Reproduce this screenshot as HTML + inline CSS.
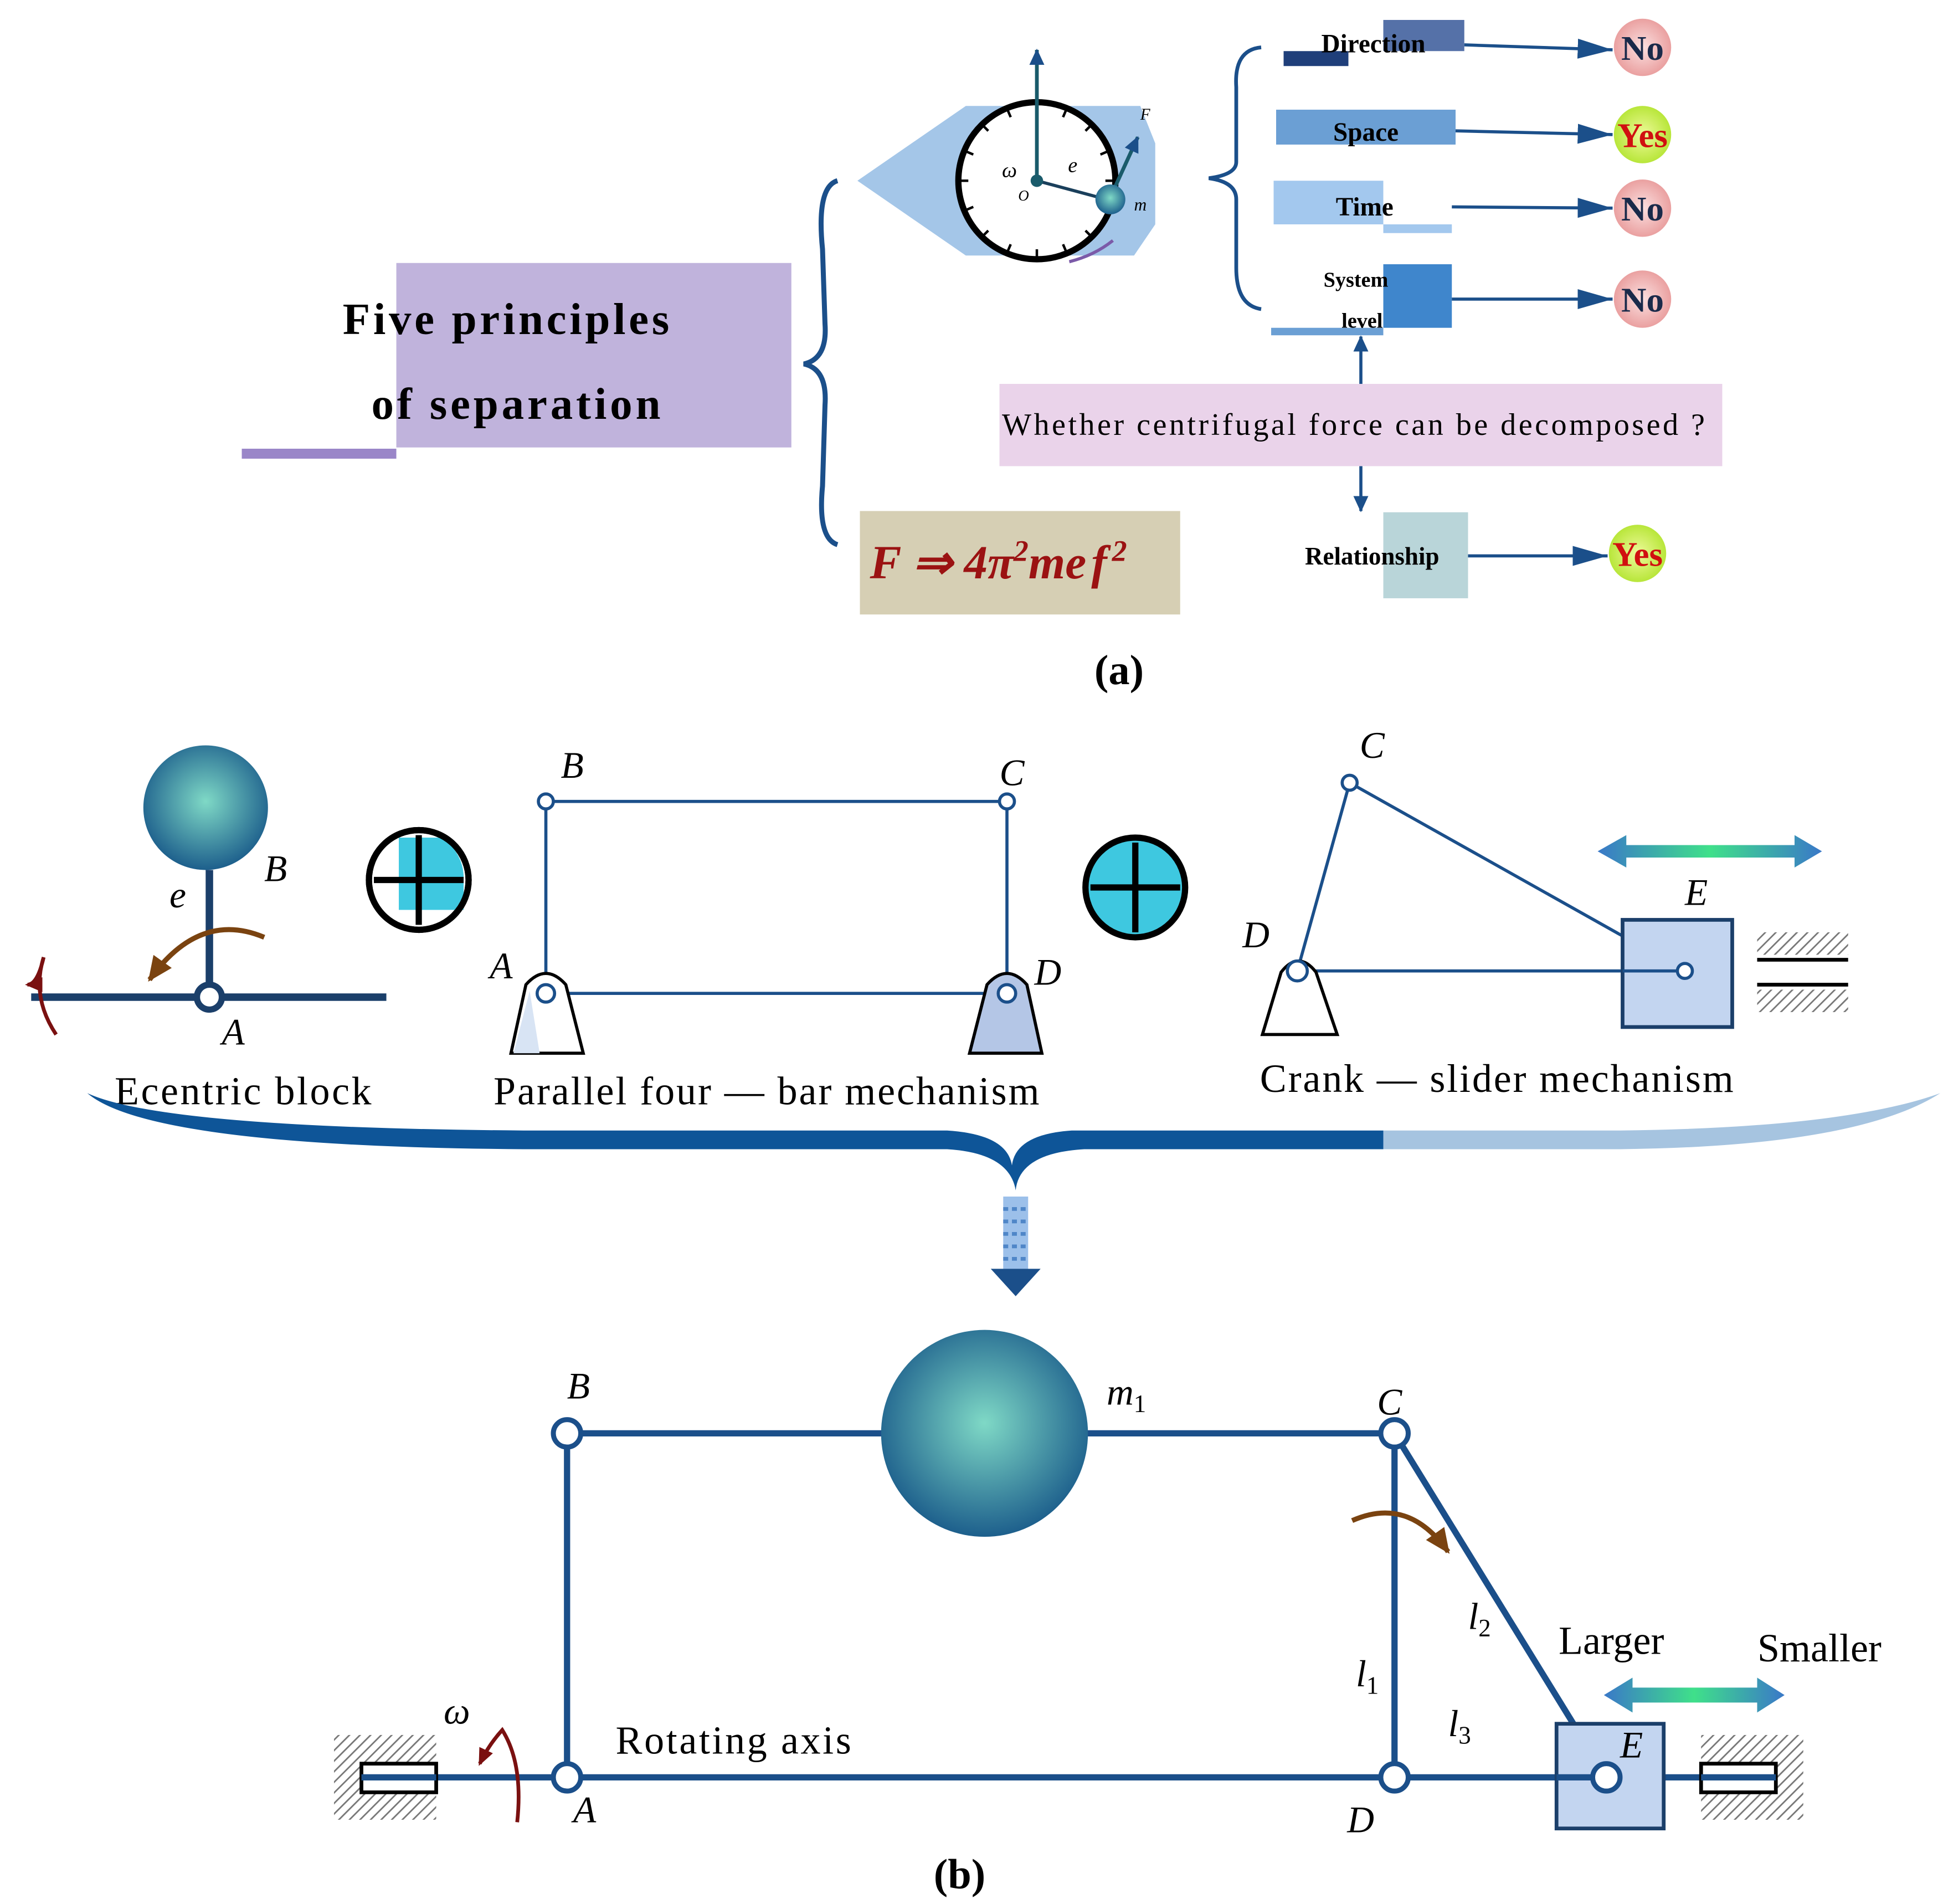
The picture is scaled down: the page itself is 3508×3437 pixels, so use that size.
<!DOCTYPE html>
<html><head><meta charset="utf-8"><style>html,body{margin:0;padding:0;background:#fff}svg{display:block}</style></head><body>
<svg width="3508" height="3437" viewBox="0 0 1559.1 1527.6" xmlns="http://www.w3.org/2000/svg" font-family="'Liberation Serif',serif">
<defs>
<radialGradient id="ball" cx="0.5" cy="0.45" r="0.55"><stop offset="0" stop-color="#7fd9c6"/><stop offset="1" stop-color="#1d5f8c"/></radialGradient>
<radialGradient id="pk" cx="0.5" cy="0.5" r="0.5"><stop offset="0" stop-color="#fbe0e0"/><stop offset="1" stop-color="#eaa0a0"/></radialGradient>
<radialGradient id="gy" cx="0.5" cy="0.5" r="0.5"><stop offset="0" stop-color="#eefa9a"/><stop offset="1" stop-color="#b8e63a"/></radialGradient>
<linearGradient id="dbl" x1="0" x2="1"><stop offset="0" stop-color="#3a78c8"/><stop offset="0.5" stop-color="#3fe08a"/><stop offset="1" stop-color="#3a78c8"/></linearGradient>
<pattern id="hatch" width="6" height="6" patternUnits="userSpaceOnUse" patternTransform="rotate(45)"><rect width="6" height="6" fill="#fff"/><line x1="0" y1="0" x2="0" y2="6" stroke="#777" stroke-width="2.5"/></pattern>
<marker id="a2" markerWidth="30" markerHeight="20" refX="28" refY="10" orient="auto" markerUnits="userSpaceOnUse"><path d="M0,2 L28,10 L0,18 Z" fill="#1b4f8a"/></marker>
<marker id="a3" markerWidth="14" markerHeight="14" refX="12" refY="7" orient="auto" markerUnits="userSpaceOnUse"><path d="M0,1 L13,7 L0,13 Z" fill="#1b4f8a"/></marker>
<marker id="ab" markerWidth="22" markerHeight="22" refX="18" refY="11" orient="auto" markerUnits="userSpaceOnUse"><path d="M0,2 L20,11 L0,20 Z" fill="#7a4310"/></marker>
<marker id="ar" markerWidth="16" markerHeight="16" refX="12" refY="8" orient="auto" markerUnits="userSpaceOnUse"><path d="M0,2 L14,8 L0,14 Z" fill="#7a1010"/></marker>
</defs>

<!-- (a) -->
<rect x="318" y="211" width="317" height="148" fill="#c0b3dc"/>
<rect x="194" y="360" width="124" height="8" fill="#9a86c8"/>
<text x="275" y="268" font-size="36" font-weight="bold" textLength="262" lengthAdjust="spacing">Five principles</text>
<text x="298" y="336" font-size="36" font-weight="bold" textLength="232" lengthAdjust="spacing">of separation</text>
<path d="M672,145 Q655,150 660,200 L662,260 Q664,288 645,292 Q664,296 662,325 L660,390 Q656,432 672,437" fill="none" stroke="#1b4f8a" stroke-width="4"/>

<polygon points="688,145 775,85 915,85 927,115 927,180 910,205 775,205" fill="#a4c6e8"/>
<circle cx="832" cy="145" r="63" fill="#fff" stroke="#000" stroke-width="5"/>
<g stroke="#000" stroke-width="2">
<path d="M832,82v8M832,208v-8M769,145h8M895,145h-8M876,100l-5,5M788,100l5,5M876,190l-5,-5M788,190l5,-5M856,87l-3,7M808,87l3,7M856,203l-3,-7M808,203l3,-7M890,121l-7,3M774,121l7,3M890,169l-7,-3M774,169l7,-3"/>
</g>
<line x1="832" y1="145" x2="832" y2="40" stroke="#1a5b6b" stroke-width="3" marker-end="url(#a3)"/>
<line x1="832" y1="145" x2="888" y2="160" stroke="#1a3f5b" stroke-width="2.5"/>
<circle cx="832" cy="145" r="5" fill="#1a5b6b"/>
<line x1="892" y1="156" x2="913" y2="110" stroke="#1a5b6b" stroke-width="3" marker-end="url(#a3)"/>
<circle cx="891" cy="160" r="12" fill="url(#ball)"/>
<path d="M858,210 Q878,205 893,193" fill="none" stroke="#7b5aa8" stroke-width="2.5"/>
<g font-style="italic" font-size="17"><text x="804" y="142">ω</text><text x="817" y="161" font-size="12">O</text><text x="857" y="138">e</text><text x="915" y="96" font-size="13">F</text><text x="910" y="169" font-size="14">m</text></g>

<path d="M1012,38 Q990,40 992,70 L992,130 Q992,140 970,143 Q992,146 992,160 L992,215 Q992,245 1012,248" fill="none" stroke="#1b4f8a" stroke-width="3"/>

<rect x="1030" y="41" width="52" height="12" fill="#1f3f7a"/>
<rect x="1110" y="16" width="65" height="25" fill="#5571a8"/>
<text x="1102" y="42" font-size="21" font-weight="bold" text-anchor="middle">Direction</text>
<rect x="1024" y="88" width="144" height="28" fill="#6b9fd4"/>
<text x="1096" y="113" font-size="21" font-weight="bold" text-anchor="middle">Space</text>
<rect x="1022" y="145" width="88" height="35" fill="#a3c8ee"/>
<rect x="1110" y="180" width="55" height="7" fill="#a3c8ee"/>
<text x="1095" y="173" font-size="21" font-weight="bold" text-anchor="middle">Time</text>
<rect x="1110" y="212" width="55" height="51" fill="#3f86cc"/>
<rect x="1020" y="263" width="90" height="6" fill="#6b9fd4"/>
<text x="1088" y="230" font-size="17" font-weight="bold" text-anchor="middle">System</text>
<text x="1093" y="263" font-size="17" font-weight="bold" text-anchor="middle">level</text>

<g stroke="#1b4f8a" stroke-width="2.5" fill="none">
<line x1="1175" y1="36" x2="1294" y2="40" marker-end="url(#a2)"/>
<line x1="1168" y1="105" x2="1294" y2="108" marker-end="url(#a2)"/>
<line x1="1165" y1="166" x2="1294" y2="167" marker-end="url(#a2)"/>
<line x1="1165" y1="240" x2="1294" y2="240" marker-end="url(#a2)"/>
<line x1="1178" y1="446" x2="1290" y2="446" marker-end="url(#a2)"/>
<line x1="1092" y1="308" x2="1092" y2="270" marker-end="url(#a3)"/>
<line x1="1092" y1="374" x2="1092" y2="410" marker-end="url(#a3)"/>
</g>
<g font-size="28" font-weight="bold" text-anchor="middle">
<circle cx="1318" cy="38" r="23" fill="url(#pk)"/><text x="1318" y="48" fill="#1a2a4a">No</text>
<circle cx="1318" cy="108" r="23" fill="url(#gy)"/><text x="1318" y="118" fill="#d01010">Yes</text>
<circle cx="1318" cy="167" r="23" fill="url(#pk)"/><text x="1318" y="177" fill="#1a2a4a">No</text>
<circle cx="1318" cy="240" r="23" fill="url(#pk)"/><text x="1318" y="250" fill="#1a2a4a">No</text>
<circle cx="1314" cy="444" r="23" fill="url(#gy)"/><text x="1314" y="454" fill="#d01010">Yes</text>
</g>
<rect x="802" y="308" width="580" height="66" fill="#ead3ea"/>
<text x="804" y="349" font-size="25" textLength="564" lengthAdjust="spacing">Whether centrifugal force can be decomposed ?</text>
<rect x="1110" y="411" width="68" height="69" fill="#b9d5d9"/>
<text x="1101" y="453" font-size="20" font-weight="bold" text-anchor="middle">Relationship</text>
<rect x="690" y="410" width="257" height="83" fill="#d6cfb4"/>
<text x="698" y="464" font-size="38" font-weight="bold" font-style="italic" fill="#9b1212">F ⇒ 4π<tspan font-size="24" dy="-14">2</tspan><tspan dy="14">me</tspan><tspan dx="4">f</tspan><tspan font-size="24" dy="-14" dx="4">2</tspan></text>
<text x="898" y="549" font-size="34" font-weight="bold" text-anchor="middle">(a)</text>

<!-- (b) top -->
<circle cx="165" cy="648" r="50" fill="url(#ball)"/>
<line x1="168" y1="698" x2="168" y2="800" stroke="#1b3f6a" stroke-width="6"/>
<line x1="25" y1="800" x2="310" y2="800" stroke="#1b3f6a" stroke-width="6"/>
<circle cx="168" cy="800" r="10" fill="#fff" stroke="#1b3f6a" stroke-width="5"/>
<path d="M212,752 Q160,730 120,786" fill="none" stroke="#7a4310" stroke-width="4" marker-end="url(#ab)"/>
<path d="M45,830 Q25,800 35,768 Q30,790 22,790" fill="none" stroke="#7a1010" stroke-width="3" marker-end="url(#ar)"/>
<g font-style="italic" font-size="30"><text x="136" y="728">e</text><text x="212" y="707">B</text><text x="178" y="838">A</text></g>
<text x="92" y="886" font-size="32" textLength="206" lengthAdjust="spacing">Ecentric block</text>

<circle cx="336" cy="706" r="40" fill="#fff" stroke="#000" stroke-width="5"/>
<path d="M320,672 h34 a38,38 0 0 1 18,34 v24 h-52 z" fill="#3ec8e0"/>
<path d="M336,670v72M300,706h72" stroke="#000" stroke-width="5"/>
<circle cx="336" cy="706" r="40" fill="none" stroke="#000" stroke-width="5"/>
<circle cx="911" cy="712" r="40" fill="#3ec8e0" stroke="#000" stroke-width="5"/>
<path d="M911,676v72M875,712h72" stroke="#000" stroke-width="5"/>

<rect x="438" y="643" width="370" height="154" fill="none" stroke="#1b4f8a" stroke-width="2.5"/>
<path d="M422,790 Q438,772 454,790 L468,845 L410,845 Z" fill="#fff" stroke="#000" stroke-width="2.5"/>
<path d="M425,795 L433,845 L412,845 Z" fill="#d8e4f4"/>
<path d="M792,790 Q808,772 824,790 L836,845 L778,845 Z" fill="#b4c6e6" stroke="#000" stroke-width="2.5"/>
<g fill="#fff" stroke="#1b4f8a" stroke-width="2.5"><circle cx="438" cy="643" r="6"/><circle cx="808" cy="643" r="6"/><circle cx="438" cy="797" r="7"/><circle cx="808" cy="797" r="7"/></g>
<g font-style="italic" font-size="30"><text x="450" y="624">B</text><text x="802" y="630">C</text><text x="393" y="785">A</text><text x="830" y="790">D</text></g>
<text x="396" y="886" font-size="32" textLength="438" lengthAdjust="spacing">Parallel four — bar mechanism</text>

<g stroke="#1b4f8a" stroke-width="2.5" fill="none"><path d="M1041,779 L1083,628 L1352,779 M1041,779 H1302"/></g>
<path d="M1028,780 Q1042,762 1056,780 L1073,830 L1013,830 Z" fill="#fff" stroke="#000" stroke-width="2.5"/>
<rect x="1302" y="738" width="88" height="86" fill="#c3d5f0" stroke="#1b3f6a" stroke-width="3"/>
<line x1="1302" y1="779" x2="1352" y2="779" stroke="#1b4f8a" stroke-width="2.5"/>
<g fill="#fff" stroke="#1b4f8a" stroke-width="2.5"><circle cx="1083" cy="628" r="6"/><circle cx="1352" cy="779" r="6"/><circle cx="1041" cy="779" r="8"/></g>
<rect x="1410" y="748" width="73" height="18" fill="url(#hatch)"/>
<rect x="1410" y="794" width="73" height="18" fill="url(#hatch)"/>
<path d="M1410,770h73M1410,790h73" stroke="#000" stroke-width="3"/>
<path d="M1282,683 L1305,670 L1305,678 L1440,678 L1440,670 L1462,683 L1440,696 L1440,688 L1305,688 L1305,696 Z" fill="url(#dbl)"/>
<g font-style="italic" font-size="30"><text x="1091" y="608">C</text><text x="997" y="760">D</text><text x="1352" y="726">E</text></g>
<text x="1011" y="876" font-size="32" textLength="380" lengthAdjust="spacing">Crank — slider mechanism</text>

<!-- big brace -->
<path d="M70,877 Q120,920 420,922 L760,922 Q810,925 815,955 Q818,925 870,922 L1110,922 L1110,907 L860,907 Q815,910 812,935 Q808,910 760,907 L420,907 Q130,905 70,877 Z" fill="#0e5598"/>
<path d="M1110,907 L1300,907 Q1480,905 1557,877 Q1490,920 1300,922 L1110,922 Z" fill="#a6c4e0"/>
<rect x="805" y="960" width="20" height="58" fill="#9cc0ea"/>
<path d="M805,970h20M805,980h20M805,990h20M805,1000h20M805,1010h20" stroke="#4f86c8" stroke-width="3" stroke-dasharray="4 3"/>
<path d="M795,1018 L835,1018 L815,1040 Z" fill="#1b4f8a"/>

<!-- bottom mechanism -->
<g stroke="#1b4f8a" stroke-width="5" fill="none">
<path d="M455,1150 H1119 M455,1150 V1426 M1119,1150 V1426 M1119,1150 L1289,1426 M290,1426 H1249 M1335,1426 H1425"/>
</g>
<circle cx="790" cy="1150" r="83" fill="url(#ball)"/>
<rect x="1249" y="1383" width="86" height="84" fill="#c3d5f0" stroke="#1b3f6a" stroke-width="3"/>
<line x1="1249" y1="1426" x2="1289" y2="1426" stroke="#1b4f8a" stroke-width="5"/>
<g fill="#fff" stroke="#1b4f8a" stroke-width="4"><circle cx="455" cy="1150" r="11"/><circle cx="1119" cy="1150" r="11"/><circle cx="455" cy="1426" r="11"/><circle cx="1119" cy="1426" r="11"/><circle cx="1289" cy="1426" r="11"/></g>
<rect x="268" y="1392" width="82" height="68" fill="url(#hatch)"/>
<rect x="290" y="1415" width="60" height="23" fill="#fff" stroke="#000" stroke-width="3"/>
<line x1="290" y1="1426" x2="350" y2="1426" stroke="#1b4f8a" stroke-width="5"/>
<rect x="1365" y="1392" width="82" height="68" fill="url(#hatch)"/>
<rect x="1365" y="1415" width="60" height="23" fill="#fff" stroke="#000" stroke-width="3"/>
<line x1="1365" y1="1426" x2="1425" y2="1426" stroke="#1b4f8a" stroke-width="5"/>
<path d="M1287,1360 L1310,1346 L1310,1354 L1410,1354 L1410,1346 L1432,1360 L1410,1374 L1410,1366 L1310,1366 L1310,1374 Z" fill="url(#dbl)"/>
<path d="M1085,1220 Q1130,1200 1162,1245" fill="none" stroke="#7a4310" stroke-width="4" marker-end="url(#ab)"/>
<path d="M415,1462 Q420,1415 403,1388 Q392,1400 385,1415" fill="none" stroke="#7a1010" stroke-width="3" marker-end="url(#ar)"/>
<g font-style="italic" font-size="30">
<text x="455" y="1122">B</text><text x="1105" y="1135">C</text><text x="888" y="1127">m<tspan font-size="20" dy="6" font-style="normal">1</tspan></text>
<text x="1178" y="1307">l<tspan font-size="20" dy="6" font-style="normal">2</tspan></text>
<text x="1088" y="1353">l<tspan font-size="20" dy="6" font-style="normal">1</tspan></text>
<text x="1162" y="1393">l<tspan font-size="20" dy="6" font-style="normal">3</tspan></text>
<text x="1300" y="1410">E</text><text x="1081" y="1470">D</text><text x="460" y="1462">A</text><text x="356" y="1383">ω</text>
</g>
<text x="1293" y="1327" font-size="32" text-anchor="middle">Larger</text>
<text x="1460" y="1333" font-size="32" text-anchor="middle">Smaller</text>
<text x="494" y="1407" font-size="32" textLength="189" lengthAdjust="spacing">Rotating axis</text>
<text x="770" y="1515" font-size="34" font-weight="bold" text-anchor="middle">(b)</text>
</svg>
</body></html>
